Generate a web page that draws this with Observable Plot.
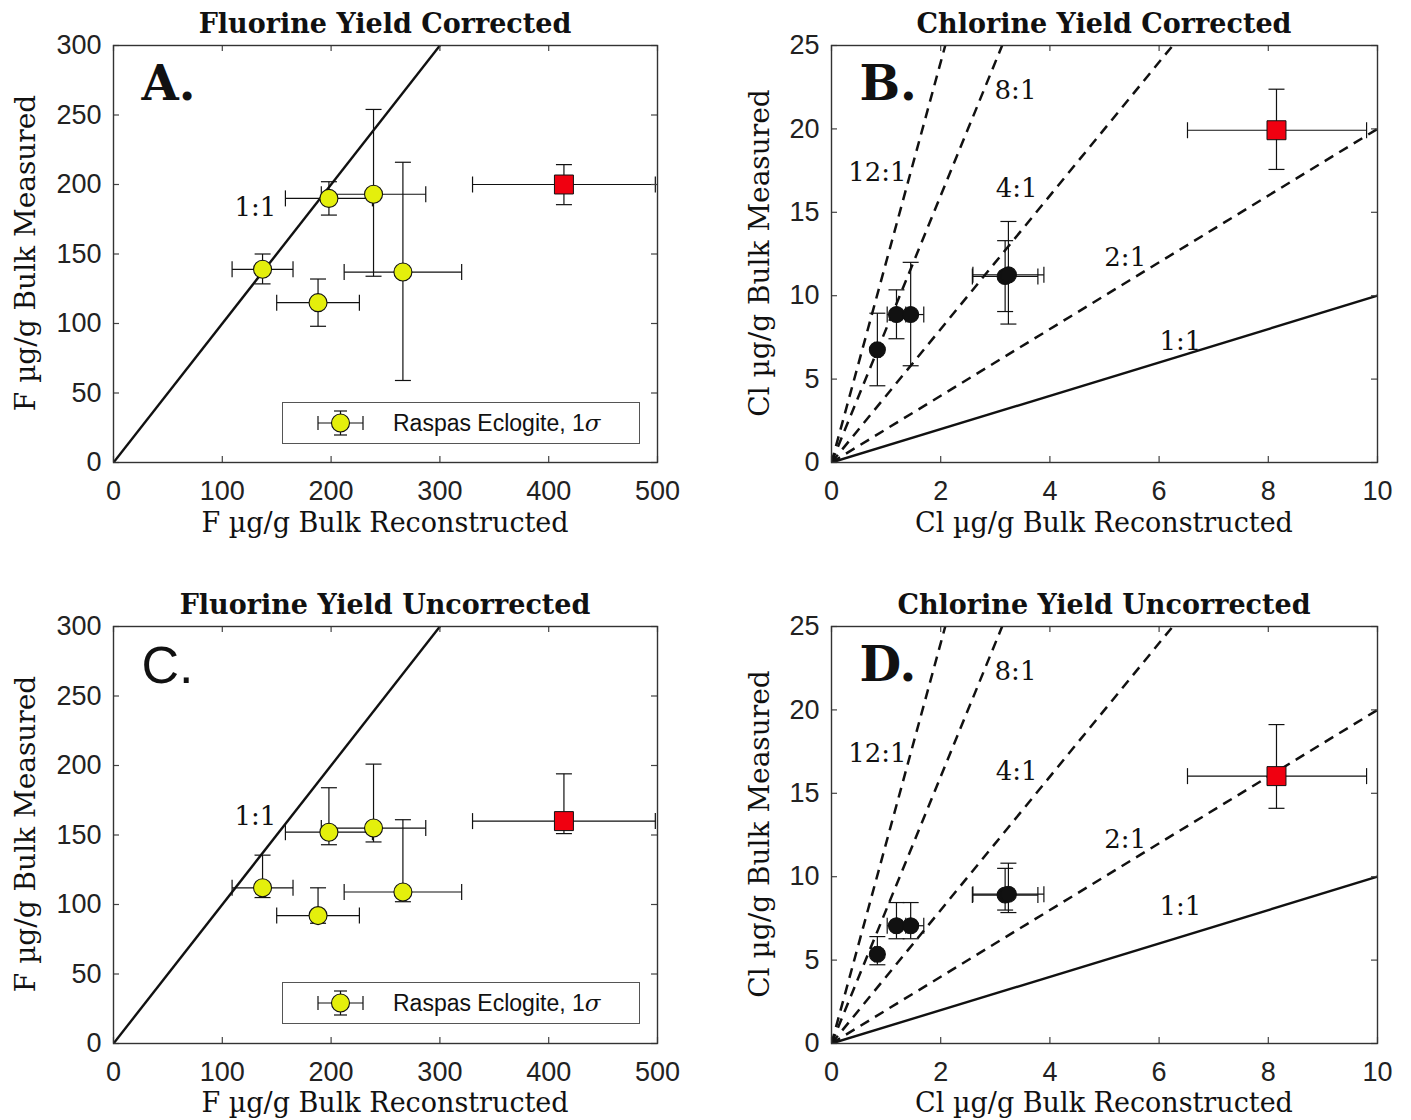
<!DOCTYPE html>
<html><head><meta charset="utf-8">
<script src="https://cdn.jsdelivr.net/npm/d3@7"></script>
<script src="https://cdn.jsdelivr.net/npm/@observablehq/plot@0.6"></script>
<style>
body{margin:0;background:#fff;width:1411px;height:1120px;overflow:hidden;}
#root{position:relative;width:1411px;height:1120px;}
.panel{position:absolute;}
.title{position:absolute;font-family:"DejaVu Serif";font-weight:bold;font-size:27px;line-height:1;white-space:nowrap;transform:translate(-50%,-50%);color:#111;}
.xlab{position:absolute;font-family:"DejaVu Serif";font-size:27px;line-height:1;white-space:nowrap;transform:translate(-50%,-50%);color:#111;}
.ylab{position:absolute;font-family:"DejaVu Serif";font-size:28px;line-height:1;white-space:nowrap;transform:translate(-50%,-50%) rotate(-90deg);color:#111;}
.legend{position:absolute;border:1.3px solid #555;background:#fff;box-sizing:border-box;display:flex;align-items:center;font-family:"Liberation Sans";font-size:23px;color:#111;}
</style>
</head><body><div id="root"></div>
<script>
// ---------------- data ----------------
// Fluorine (panels A, C): reconstructed x, 1σ x error
const fX      = [137, 198, 239, 266, 188];
const fXErr   = [28, 40, 48, 54, 38];
// Fluorine yield corrected (A)
const fYCorr   = [139, 190, 193, 137, 115];
const fYCorrLo = [128.5, 178, 134, 59, 98];
const fYCorrHi = [150, 202, 254, 216, 132];
// Fluorine yield uncorrected (C)
const fYUnc   = [112, 152, 155, 109, 92];
const fYUncLo = [105, 143, 145, 102, 86.5];
const fYUncHi = [135.5, 184, 201, 161, 112];
// Fluorine reference (red square): [x, xlo, xhi]
const fRefX = [414, 330, 498];
const fRefYCorr = [200, 185.5, 214.3];   // [y, lo, hi]
const fRefYUnc  = [160, 151, 194];

// Chlorine (panels B, D)
const clX    = [0.84, 1.19, 1.45, 3.18, 3.24];
const clXErr = [0.05, 0.17, 0.24, 0.6, 0.65];
const clYCorr   = [6.76, 8.87, 8.87, 11.15, 11.25];
const clYCorrLo = [4.6, 7.42, 5.8, 9.05, 8.3];
const clYCorrHi = [8.95, 10.35, 12.0, 13.3, 14.45];
const clYUnc   = [5.35, 7.06, 7.06, 8.9, 8.95];
const clYUncLo = [4.72, 6.28, 6.28, 8.0, 7.85];
const clYUncHi = [6.41, 8.45, 8.45, 10.5, 10.81];
const clRefX = [8.15, 6.52, 9.8];
const clRefYCorr = [19.92, 17.57, 22.38];
const clRefYUnc  = [16.03, 14.1, 19.12];

// ratio lines and their labels
const fRatios  = [1];
const clRatios = [1, 2, 4, 8, 12];
const clRatioLabels = ["1:1", "2:1", "4:1", "8:1", "12:1"];
const clLabelXCorr = [6.39, 5.38, 3.39, 3.37, 0.84];
const clLabelYCorr = [7.25, 12.3, 16.4, 22.3, 17.4];
const clLabelXUnc  = [6.39, 5.38, 3.39, 3.37, 0.84];
const clLabelYUnc  = [8.2, 12.2, 16.3, 22.3, 17.4];
const fLabelCorr = [130.5, 183.5];
const fLabelUnc  = [130.5, 163.3];

const fXTicks  = [0, 100, 200, 300, 400, 500];
const fYTicks  = [0, 50, 100, 150, 200, 250, 300];
const clXTicks = [0, 2, 4, 6, 8, 10];
const clYTicks = [0, 5, 10, 15, 20, 25];

// ---------------- helpers ----------------
const hcap = {draw(ctx, size){const r=Math.sqrt(size/Math.PI);ctx.moveTo(-r,0);ctx.lineTo(r,0);}};
const vcap = {draw(ctx, size){const r=Math.sqrt(size/Math.PI);ctx.moveTo(0,-r);ctx.lineTo(0,r);}};

function rows(x, xe, y, lo, hi){
  return x.map((v,i)=>({x:v, xlo:v-xe[i], xhi:v+xe[i], y:y[i], lo:lo[i], hi:hi[i]}));
}
function refRow(rx, ry){ return [{x:rx[0], xlo:rx[1], xhi:rx[2], y:ry[0], lo:ry[1], hi:ry[2]}]; }

function errorMarks(data){
  const s = {stroke:"#111", strokeWidth:1.2};
  return [
    Plot.link(data, {x1:"x", x2:"x", y1:"lo", y2:"hi", ...s}),
    Plot.link(data, {x1:"xlo", x2:"xhi", y1:"y", y2:"y", ...s}),
    Plot.dot(data, {x:"x", y:"hi", symbol:hcap, r:8, fill:"none", ...s}),
    Plot.dot(data, {x:"x", y:"lo", symbol:hcap, r:8, fill:"none", ...s}),
    Plot.dot(data, {x:"xlo", y:"y", symbol:vcap, r:8, fill:"none", ...s}),
    Plot.dot(data, {x:"xhi", y:"y", symbol:vcap, r:8, fill:"none", ...s})
  ];
}

const PW = 417; // plot area height
function frameMarks(xT, yT, pw){
  const st = {stroke:"#444", strokeWidth:1.2};
  return [
    Plot.tickX(xT, {x:d=>d, insetTop:PW-6, ...st}),
    Plot.tickX(xT, {x:d=>d, insetBottom:PW-6, ...st}),
    Plot.tickY(yT, {y:d=>d, insetRight:pw-6, ...st}),
    Plot.tickY(yT, {y:d=>d, insetLeft:pw-6, ...st}),
    Plot.frame({stroke:"#333", strokeWidth:1.4}),
    Plot.axisX({ticks:xT, tickSize:0, tickPadding:18, label:null, fill:"#222"}),
    Plot.axisY({ticks:yT, tickSize:0, tickPadding:12, label:null, fill:"#222"})
  ];
}

function makePlot(cfg){
  const pw = cfg.width - 113 - cfg.mr;
  const ext = cfg.xd[1] * 2;
  const lineOpts = {x1:()=>0, y1:()=>0, x2:()=>ext, y2:k=>k*ext, stroke:"#111", strokeWidth:2.4, clip:true};
  const p = Plot.plot({
    width: cfg.width, height: 539,
    marginLeft:113, marginRight:cfg.mr, marginTop:45, marginBottom:77,
    style:{fontFamily:"Liberation Sans", fontSize:"27px", background:"white", overflow:"visible"},
    x:{domain:cfg.xd, label:null},
    y:{domain:cfg.yd, label:null},
    marks:[
      Plot.link(cfg.ratios.filter(k=>k===1), lineOpts),
      Plot.link(cfg.ratios.filter(k=>k!==1), {...lineOpts, strokeWidth:2.5, strokeDasharray:"10,7"}),
      ...errorMarks(cfg.ref),
      ...errorMarks(cfg.pts),
      cfg.origin ? Plot.dot([0], {x:()=>0, y:()=>0, r:5, fill:"#111", clip:true}) : null,
      Plot.dot(cfg.pts, {x:"x", y:"y", r:cfg.dotR, fill:cfg.dotFill, stroke:"#111", strokeWidth:1.1}),
      Plot.dot(cfg.ref, {x:"x", y:"y", symbol:"square", r:10.7, fill:"#f00010", stroke:"#111", strokeWidth:1}),
      Plot.text(cfg.labels, {x:"x", y:"y", text:"t", fontFamily:"DejaVu Serif", fontSize:26, fill:"#111"}),
      Plot.text([cfg.letter], {frameAnchor:"top-left", dx:28, dy:20, lineAnchor:"top", textAnchor:"start",
        fontSize:cfg.letterSize, fontWeight:cfg.letterWeight, fontFamily:cfg.letterFont, fill:"#111"}),
      ...frameMarks(cfg.xt, cfg.yt, pw)
    ]
  });
  p.classList.add("panel");
  p.style.left = cfg.left + "px";
  p.style.top = cfg.top + "px";
  return p;
}

const root = document.getElementById("root");
function addDiv(cls, html, x, y, extra){
  const d = document.createElement("div");
  d.className = cls; d.innerHTML = html;
  d.style.left = x + "px"; d.style.top = y + "px";
  if (extra) Object.assign(d.style, extra);
  root.appendChild(d);
  return d;
}

const clLab = (xs, ys) => clRatioLabels.map((t,i)=>({t, x:xs[i], y:ys[i]}));

const panels = [
  {left:0, top:0, width:700, mr:43, xd:[0,500], yd:[0,300], xt:fXTicks, yt:fYTicks, ratios:fRatios,
   pts:rows(fX,fXErr,fYCorr,fYCorrLo,fYCorrHi), ref:refRow(fRefX,fRefYCorr), dotR:9, dotFill:"#e4ef0c",
   labels:[{t:"1:1", x:fLabelCorr[0], y:fLabelCorr[1]}], letter:"A.", letterFont:"DejaVu Serif", letterWeight:"bold", letterSize:48},
  {left:718, top:0, width:693, mr:34, xd:[0,10], yd:[0,25], xt:clXTicks, yt:clYTicks, ratios:clRatios,
   pts:rows(clX,clXErr,clYCorr,clYCorrLo,clYCorrHi), ref:refRow(clRefX,clRefYCorr), dotR:8, dotFill:"#111", origin:true,
   labels:clLab(clLabelXCorr, clLabelYCorr), letter:"B.", letterFont:"DejaVu Serif", letterWeight:"bold", letterSize:48},
  {left:0, top:581, width:700, mr:43, xd:[0,500], yd:[0,300], xt:fXTicks, yt:fYTicks, ratios:fRatios,
   pts:rows(fX,fXErr,fYUnc,fYUncLo,fYUncHi), ref:refRow(fRefX,fRefYUnc), dotR:9, dotFill:"#e4ef0c",
   labels:[{t:"1:1", x:fLabelUnc[0], y:fLabelUnc[1]}], letter:"C.", letterFont:"Liberation Sans", letterWeight:"normal", letterSize:52},
  {left:718, top:581, width:693, mr:34, xd:[0,10], yd:[0,25], xt:clXTicks, yt:clYTicks, ratios:clRatios,
   pts:rows(clX,clXErr,clYUnc,clYUncLo,clYUncHi), ref:refRow(clRefX,clRefYUnc), dotR:8, dotFill:"#111", origin:true,
   labels:clLab(clLabelXUnc, clLabelYUnc), letter:"D.", letterFont:"DejaVu Serif", letterWeight:"bold", letterSize:48}
];
panels.forEach(c => root.appendChild(makePlot(c)));

// titles and axis labels
addDiv("title", "Fluorine Yield Corrected", 385, 23);
addDiv("title", "Chlorine Yield Corrected", 1104, 23);
addDiv("title", "Fluorine Yield Uncorrected", 385, 604);
addDiv("title", "Chlorine Yield Uncorrected", 1104, 604);
addDiv("xlab", "F µg/g Bulk Reconstructed", 385, 522);
addDiv("xlab", "Cl µg/g Bulk Reconstructed", 1104, 522);
addDiv("xlab", "F µg/g Bulk Reconstructed", 385, 1102);
addDiv("xlab", "Cl µg/g Bulk Reconstructed", 1104, 1102);
addDiv("ylab", "F µg/g Bulk Measured", 26, 253);
addDiv("ylab", "Cl µg/g Bulk Measured", 760, 253);
addDiv("ylab", "F µg/g Bulk Measured", 26, 834);
addDiv("ylab", "Cl µg/g Bulk Measured", 760, 834);

// legends
const icon = `<svg width="60" height="40" style="margin-left:30px;margin-right:20px" viewBox="0 0 60 40">
<g stroke="#111" stroke-width="1.2" fill="none">
<line x1="5" y1="20" x2="50" y2="20"/><line x1="5" y1="13" x2="5" y2="27"/><line x1="50" y1="13" x2="50" y2="27"/>
<line x1="27.5" y1="8" x2="27.5" y2="32"/><line x1="21" y1="8" x2="34" y2="8"/><line x1="21" y1="32" x2="34" y2="32"/>
</g><circle cx="27.5" cy="20" r="9" fill="#e4ef0c" stroke="#111" stroke-width="1.1"/></svg>`;
const legText = `<span>Raspas Eclogite, 1<i style="font-family:'DejaVu Serif'">σ</i></span>`;
addDiv("legend", icon + legText, 282, 402, {width:"358px", height:"42px"});
addDiv("legend", icon + legText, 282, 982, {width:"358px", height:"42px"});
</script>
</body></html>
